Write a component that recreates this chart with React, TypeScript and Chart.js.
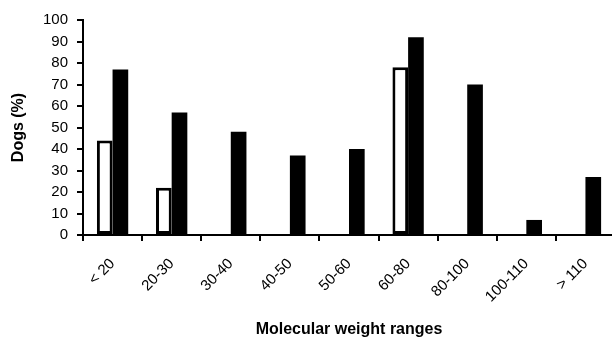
import React, { useEffect, useRef } from "react";
import { Chart, registerables } from "chart.js";

Chart.register(...registerables);

const categories = ["< 20", "20-30", "30-40", "40-50", "50-60", "60-80", "80-100", "100-110", "> 110"];
const whiteValues = [44, 22, 0, 0, 0, 78, 0, 0, 0];
const blackValues = [77, 57, 48, 37, 40, 92, 70, 7, 27];
const yTicks = [0, 10, 20, 30, 40, 50, 60, 70, 80, 90, 100];

export default function App() {
  const ref = useRef<HTMLCanvasElement>(null);
  useEffect(() => {
    document.body.style.margin = "0";
    document.body.style.overflow = "hidden";
    const font = "'Liberation Sans', Arial, sans-serif";
    const chart = new Chart(ref.current!, {
      type: "bar",
      data: {
        labels: categories,
        datasets: [
          {
            data: whiteValues.map((v) => (v === 0 ? null : v)),
            backgroundColor: "#ffffff",
            borderColor: "#000000",
            borderWidth: 3,
            borderSkipped: false,
            barPercentage: 1,
            categoryPercentage: 0.53,
          },
          {
            data: blackValues,
            backgroundColor: "#000000",
            borderWidth: 0,
            barPercentage: 1,
            categoryPercentage: 0.53,
          },
        ],
      },
      options: {
        animation: false,
        responsive: false,
        layout: { padding: { top: 20, right: 0, left: 0, bottom: 0 } },
        plugins: { legend: { display: false }, tooltip: { enabled: false } },
        scales: {
          x: {
            offset: true,
            grid: {
              offset: true,
              drawOnChartArea: false,
              drawTicks: true,
              tickLength: 6,
              color: "#000",
              lineWidth: 2,
            },
            border: { display: true, color: "#000", width: 2 },
            ticks: {
              color: "#000",
              font: { family: font, size: 15 },
              maxRotation: 45,
              minRotation: 45,
              padding: 14,
              autoSkip: false,
            },
            title: {
              display: true,
              text: "Molecular weight ranges",
              color: "#000",
              font: { family: font, size: 16, weight: "bold" },
              padding: { top: 0, bottom: 1 },
            },
            afterFit: (s: any) => {
              s.height = 105;
            },
          },
          y: {
            min: 0,
            max: 100,
            afterBuildTicks: (s: any) => {
              s.ticks = yTicks.map((v) => ({ value: v }));
            },
            grid: {
              drawOnChartArea: false,
              drawTicks: true,
              tickLength: 6,
              color: "#000",
              lineWidth: 2,
            },
            border: { display: true, color: "#000", width: 2 },
            ticks: {
              color: "#000",
              font: { family: font, size: 15 },
              padding: 9,
            },
            title: {
              display: true,
              text: "Dogs (%)",
              color: "#000",
              font: { family: font, size: 16, weight: "bold" },
              padding: { top: 9, bottom: 0 },
            },
            afterFit: (s: any) => {
              s.width = 83;
            },
          },
        },
      },
    });
    return () => chart.destroy();
  }, []);
  return (
    <div style={{ position: "fixed", left: 0, top: 0, width: 612, height: 340, overflow: "hidden" }}>
      <canvas ref={ref} width={615} height={340} style={{ display: "block" }} />
    </div>
  );
}
